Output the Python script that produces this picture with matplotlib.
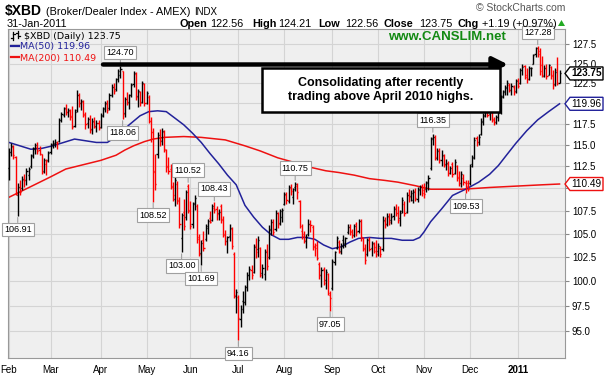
import numpy as np
import pandas as pd
import matplotlib
matplotlib.use("Agg")
import matplotlib.pyplot as plt
from matplotlib.collections import LineCollection
from matplotlib.patches import Polygon, Rectangle
from matplotlib.transforms import IdentityTransform
from matplotlib.ticker import FixedLocator, FixedFormatter, NullLocator

# ---------------- data (daily OHLC, 1-Feb-2010 .. 31-Jan-2011) ----------------
opens = [
    # Feb
    112.3, 114.2, 114.8, 113.6, 109.3, 110.1, 110.0, 111.0, 110.9, 111.5,
    112.5, 113.8, 114.5, 114.8, 114.4, 113.9, 112.0, 112.8, 113.2,
    # Mar
    114.2, 115.1, 115.2, 115.2, 115.5, 118.0, 118.6, 119.3, 118.9, 119.1,
    118.5, 117.3, 119.2, 121.0, 120.0, 120.2, 118.7, 117.6, 118.1, 116.9,
    117.8, 117.3, 117.6,
    # Apr
    117.2, 118.6, 119.3, 119.9, 119.4, 121.0, 122.1, 121.8, 123.1, 123.5,
    124.0, 118.8, 120.6, 120.2, 121.1, 122.4, 123.7, 120.9, 121.4, 120.2,
    122.4,
    # May
    120.1, 120.8, 117.9, 116.5, 111.9, 114.0, 115.8, 115.5, 116.6, 114.4,
    112.6, 112.2, 110.1, 108.8, 110.5, 108.7, 104.5, 107.4, 106.8, 110.3,
    # Jun
    107.5, 106.0, 108.4, 108.0, 104.6, 102.9, 104.3, 104.4, 105.6, 106.7,
    106.5, 107.8, 107.7, 107.3, 108.0, 106.6, 105.0, 104.2, 104.8, 105.5,
    102.8, 98.5,
    # Jul
    98.4, 96.2, 98.0, 97.9, 99.4, 100.7, 101.2, 101.0, 103.7, 103.4,
    103.5, 100.9, 100.8, 103.2, 102.5, 105.4, 106.3, 105.5, 107.2, 106.2,
    106.8,
    # Aug
    108.3, 109.2, 108.6, 110.0, 109.0, 110.1, 110.3, 108.6, 105.3, 104.8,
    104.2, 105.0, 106.0, 105.7, 103.6, 103.8, 101.8, 100.6, 101.3, 100.1,
    100.8, 98.6,
    # Sep
    99.3, 102.0, 103.5, 104.1, 103.2, 104.3, 104.0, 105.2, 105.7, 105.2,
    104.9, 106.1, 105.3, 106.4, 104.5, 103.4, 102.8, 104.4, 103.5, 103.9,
    103.6,
    # Oct
    103.2, 103.5, 103.4, 106.4, 106.1, 106.8, 106.5, 106.9, 107.8, 107.3,
    106.7, 107.5, 108.3, 107.4, 109.3, 109.1, 108.7, 109.7, 108.8, 109.9,
    110.3,
    # Nov
    109.8, 109.9, 110.7, 112.3, 115.8, 116.0, 113.5, 114.4, 113.3, 113.7,
    112.8, 112.8, 111.8, 112.8, 111.7, 112.6, 111.3, 110.6, 111.2, 110.6,
    110.6,
    # Dec
    110.6, 112.8, 113.6, 115.8, 115.4, 116.3, 117.8, 118.6, 119.5, 118.7,
    119.0, 118.0, 117.8, 118.3, 119.0, 120.9, 121.4, 121.9, 122.3, 121.7,
    122.1, 121.5,
    # Jan 2011
    122.9, 122.6, 124.2, 124.7, 123.5, 123.1, 124.5, 125.0, 126.3, 127.0,
    126.6, 124.8, 123.4, 124.4, 123.6, 124.6, 123.5, 122.4, 124.2, 122.56,
]
highs = [
    114.6, 115.2, 115.0, 113.7, 110.6, 111.0, 111.4, 111.6, 112.3, 112.4,
    113.9, 114.8, 115.2, 115.3, 114.9, 114.0, 113.5, 113.4, 114.3,
    115.2, 115.6, 115.7, 115.5, 118.2, 119.0, 119.6, 119.9, 119.5, 119.3,
    119.7, 119.3, 121.7, 121.3, 120.6, 120.4, 119.0, 118.4, 118.6, 118.2,
    118.3, 118.0, 118.0,
    118.8, 119.6, 120.3, 120.4, 121.3, 122.4, 122.6, 123.2, 124.3, 124.70,
    124.1, 120.8, 121.4, 121.2, 122.6, 124.1, 123.9, 121.8, 121.6, 122.8,
    122.6,
    121.6, 121.0, 118.3, 117.0, 113.9, 116.6, 116.9, 117.0, 116.8, 114.5,
    113.6, 112.8, 110.7, 111.3, 110.8, 109.0, 107.3, 108.8, 109.8, 110.52,
    108.6, 108.5, 109.3, 108.2, 105.0, 104.3, 105.3, 106.0, 106.6, 107.5,
    108.2, 108.43, 108.0, 107.7, 108.2, 106.9, 105.4, 104.8, 106.0, 105.7,
    103.0, 99.2,
    98.6, 97.6, 99.0, 99.6, 101.0, 101.6, 101.7, 103.9, 104.5, 104.8,
    103.6, 101.8, 103.4, 103.9, 105.9, 106.6, 106.6, 107.6, 107.4, 107.7,
    107.8,
    109.6, 109.6, 110.4, 110.5, 110.0, 110.75, 110.6, 108.7, 106.0, 105.3,
    105.0, 106.6, 106.5, 105.9, 104.0, 104.2, 102.0, 101.5, 101.5, 101.3,
    100.9, 99.0,
    102.3, 103.2, 104.8, 104.3, 104.0, 104.9, 104.7, 106.0, 106.1, 105.5,
    106.0, 106.3, 106.6, 106.6, 104.7, 103.9, 104.5, 104.6, 104.2, 104.1,
    104.3,
    104.0, 103.7, 106.9, 106.8, 107.3, 107.2, 107.2, 108.0, 108.2, 108.0,
    107.6, 109.0, 108.6, 109.6, 109.9, 109.8, 109.9, 110.0, 110.1, 110.4,
    110.5,
    110.6, 110.8, 111.5, 116.0, 116.35, 116.2, 114.6, 114.6, 114.4, 114.0,
    113.4, 113.1, 112.6, 113.0, 113.4, 112.7, 112.0, 112.0, 111.6, 111.0,
    111.0,
    112.8, 113.8, 115.9, 116.1, 116.3, 118.2, 118.8, 119.9, 119.8, 119.3,
    119.3, 118.3, 118.6, 119.0, 121.0, 121.7, 122.3, 122.9, 122.6, 122.5,
    122.3, 123.0,
    123.2, 124.4, 124.9, 124.8, 124.5, 124.7, 124.6, 126.3, 127.2, 127.28,
    127.0, 126.0, 124.8, 125.0, 125.0, 124.7, 124.2, 124.4, 125.9, 124.21,
]
lows = [
    111.0, 113.7, 113.4, 109.2, 106.91, 109.2, 109.8, 110.2, 110.4, 110.9,
    112.3, 113.5, 114.0, 113.9, 113.8, 111.6, 111.8, 111.5, 113.0,
    114.0, 114.6, 114.8, 114.5, 115.4, 117.7, 118.3, 118.6, 118.4, 118.0,
    116.9, 117.2, 119.0, 119.6, 119.2, 118.3, 116.9, 117.0, 116.4, 116.3,
    117.0, 116.5, 116.8,
    117.0, 118.3, 119.0, 118.8, 119.2, 120.8, 121.2, 121.6, 122.7, 123.2,
    118.06, 118.3, 119.8, 119.3, 120.8, 122.1, 120.4, 119.6, 119.7, 120.0,
    119.7,
    119.9, 117.6, 115.4, 108.52, 109.8, 113.5, 114.9, 115.0, 114.2, 111.9,
    111.6, 109.9, 108.6, 108.0, 108.3, 105.6, 103.00, 105.4, 106.5, 107.2,
    105.5, 105.6, 107.6, 104.0, 102.6, 101.69, 103.2, 104.2, 105.0, 106.2,
    106.4, 107.3, 106.5, 106.5, 106.2, 104.6, 103.8, 102.9, 104.2, 103.4,
    98.3, 96.8,
    94.16, 95.4, 96.8, 97.6, 99.0, 100.1, 100.2, 100.9, 102.4, 102.5,
    100.4, 100.3, 100.1, 101.2, 102.3, 104.9, 104.9, 105.3, 105.6, 105.9,
    106.3,
    108.1, 108.3, 108.4, 109.2, 108.3, 109.7, 108.8, 105.6, 104.4, 104.0,
    103.5, 104.8, 105.2, 103.3, 102.6, 102.2, 100.2, 99.4, 99.6, 99.2,
    98.6, 97.05,
    99.1, 101.7, 103.4, 102.9, 102.8, 103.5, 103.6, 105.0, 104.9, 104.5,
    104.6, 104.8, 105.1, 104.2, 103.2, 101.8, 102.6, 103.2, 102.6, 102.9,
    102.5,
    102.6, 102.5, 103.2, 105.6, 105.8, 105.9, 106.0, 106.5, 106.9, 106.2,
    105.8, 107.2, 106.9, 107.3, 108.5, 108.6, 108.4, 108.6, 108.5, 109.2,
    109.1,
    108.9, 109.6, 109.8, 112.1, 115.0, 113.2, 113.3, 112.9, 112.6, 112.4,
    112.1, 111.4, 111.6, 111.3, 111.6, 110.8, 110.3, 110.2, 110.4, 109.53,
    109.7,
    110.4, 112.4, 113.4, 114.9, 115.0, 116.2, 117.4, 118.4, 118.3, 118.0,
    117.7, 117.4, 117.5, 117.9, 118.7, 120.7, 121.0, 121.1, 121.4, 121.1,
    121.0, 121.3,
    121.9, 122.4, 123.6, 123.0, 122.6, 122.9, 123.4, 124.9, 125.9, 125.8,
    123.6, 123.3, 123.3, 123.0, 123.5, 123.0, 121.8, 122.2, 122.3, 122.56,
]
closes = [
    114.2, 114.9, 113.8, 109.4, 110.1, 109.6, 111.1, 110.9, 112.0, 112.2,
    113.7, 114.6, 115.0, 114.3, 114.0, 111.9, 113.2, 113.1, 114.1,
    115.0, 115.1, 115.3, 115.2, 118.0, 118.7, 119.4, 118.9, 119.2, 118.3,
    117.2, 119.0, 121.1, 120.1, 120.3, 118.6, 117.5, 118.1, 116.8, 117.9,
    117.2, 117.6, 117.0,
    118.5, 119.4, 120.0, 119.2, 121.0, 122.1, 121.6, 123.0, 124.0, 124.3,
    118.7, 120.5, 120.1, 121.0, 122.3, 123.8, 120.8, 121.5, 120.0, 122.5,
    120.0,
    121.3, 117.9, 116.6, 112.0, 110.5, 116.2, 115.6, 116.7, 114.5, 112.4,
    112.0, 110.3, 109.2, 110.9, 108.6, 106.0, 107.0, 105.8, 109.6, 107.6,
    105.8, 108.3, 108.9, 104.4, 102.8, 104.0, 103.5, 105.8, 106.4, 106.3,
    108.0, 107.6, 107.1, 107.4, 106.5, 104.9, 104.2, 104.6, 105.6, 103.7,
    98.6, 98.9,
    96.3, 97.2, 97.9, 99.4, 100.7, 101.3, 100.6, 103.6, 103.0, 104.3,
    100.7, 101.4, 103.1, 101.6, 105.5, 106.3, 105.2, 107.3, 106.1, 107.5,
    107.6,
    109.4, 108.7, 110.2, 109.7, 109.9, 110.5, 109.6, 105.8, 105.0, 104.3,
    104.7, 106.0, 105.9, 103.7, 103.5, 102.4, 100.6, 101.2, 99.8, 101.0,
    98.8, 98.3,
    102.1, 103.0, 104.5, 103.1, 103.7, 103.8, 104.5, 105.7, 105.3, 104.9,
    105.8, 105.2, 106.4, 104.6, 103.5, 102.2, 104.3, 103.4, 104.0, 103.2,
    102.8,
    103.7, 102.8, 106.5, 106.0, 106.9, 106.3, 106.8, 107.7, 107.2, 106.5,
    107.3, 108.7, 107.2, 109.2, 109.0, 109.5, 109.6, 108.9, 109.8, 110.2,
    109.5,
    109.4, 110.6, 111.2, 115.7, 116.0, 113.6, 114.3, 113.2, 113.8, 112.7,
    112.9, 111.7, 112.3, 111.6, 113.0, 111.2, 110.6, 111.6, 110.7, 110.3,
    109.9,
    112.6, 113.5, 115.6, 115.3, 116.0, 117.9, 118.5, 119.6, 118.6, 119.0,
    118.1, 117.7, 118.4, 118.8, 120.8, 121.5, 122.0, 122.5, 121.7, 122.2,
    121.4, 122.8,
    122.2, 124.2, 124.6, 123.3, 123.0, 124.4, 124.5, 126.1, 127.0, 126.3,
    124.0, 123.6, 124.5, 123.4, 124.8, 123.4, 122.3, 123.9, 122.56, 123.75,
]

# moving averages (trading-day index, value)
ma50_days = [0, 5, 10, 15, 20, 25, 30, 35, 40, 45, 48, 50, 55, 60, 64, 68, 72, 76,
             80, 84, 88, 92, 96, 100, 104, 108, 112, 116, 120, 124, 128, 132, 136,
             140, 144, 148, 152, 156, 160, 165, 170, 175, 180, 185, 188, 190, 193,
             198, 203, 209, 215, 220, 224, 228, 232, 237, 242, 247, 252]
ma50_vals = [115.3, 114.9, 114.5, 114.6, 114.9, 115.3, 115.7, 115.5, 115.3, 115.3,
             115.8, 116.2, 117.4, 118.5, 119.0, 119.1, 119.0, 118.2, 117.4, 116.4,
             115.3, 114.0, 112.8, 111.5, 110.4, 108.1, 106.8, 105.7, 104.9, 104.4,
             104.4, 104.6, 104.6, 104.4, 103.8, 103.4, 103.6, 104.1, 104.5, 104.6,
             104.5, 104.5, 104.3, 104.3, 104.6, 105.2, 106.3, 107.7, 109.2, 109.9,
             110.7, 111.6, 112.6, 113.9, 115.2, 116.7, 118.0, 119.0, 119.96]
ma200_days = [0, 10, 19, 26, 34, 42, 49, 53, 57, 62, 66, 71, 80, 88, 99, 108, 115,
              123, 130, 138, 145, 151, 158, 165, 172, 178, 186, 193, 200, 207, 214,
              220, 228, 236, 244, 252]
ma200_vals = [109.0, 110.2, 111.3, 112.2, 112.7, 113.2, 113.8, 114.4, 114.9, 115.4,
              115.7, 115.9, 116.0, 115.9, 115.6, 114.9, 114.3, 113.5, 113.0, 112.4,
              112.0, 111.8, 111.5, 111.1, 110.9, 110.7, 110.3, 109.9, 109.9, 109.9,
              110.0, 110.1, 110.2, 110.3, 110.4, 110.49]

# labelled highs / lows (trading-day index, value, kind)
mark_days = [4, 51, 52, 66, 79, 82, 88, 94, 105, 131, 147, 194, 209, 242]
mark_vals = [106.91, 124.70, 118.06, 108.52, 103.00, 110.52, 101.69, 108.43,
             94.16, 110.75, 97.05, 116.35, 109.53, 127.28]
mark_kind = ['low', 'high', 'low', 'low', 'low', 'high', 'low', 'high',
             'low', 'high', 'low', 'high', 'low', 'high']

yticks = [95.0, 97.5, 100.0, 102.5, 105.0, 107.5, 110.0, 112.5, 115.0, 117.5,
          120.0, 122.5, 125.0, 127.5]
month_labels = ['Feb', 'Mar', 'Apr', 'May', 'Jun', 'Jul', 'Aug', 'Sep', 'Oct',
                'Nov', 'Dec', '2011']

# ---------------- trading calendar ----------------
holidays = pd.to_datetime(['2010-02-15', '2010-04-02', '2010-05-31', '2010-07-05',
                           '2010-09-06', '2010-11-25', '2010-12-24', '2011-01-17'])
dates = pd.bdate_range('2010-02-01', '2011-01-31')
dates = dates[~dates.isin(holidays)]
n = len(closes)
idx = np.arange(n)
mstarts = [i for i in range(n) if i == 0 or dates[i].month != dates[i - 1].month]

# ---------------- figure ----------------
W, H = 605, 378
fig = plt.figure(figsize=(W / 100, H / 100), dpi=100)
fig.patch.set_facecolor('white')
ax = fig.add_axes([8 / W, (H - 358) / H, 557 / W, 329 / H])
ax.set_facecolor('#efefef')
ax.set_yscale('log')
ax.set_xlim(-0.46, 254.5)
ax.set_ylim(92.44, 129.52)

ax.yaxis.set_major_locator(FixedLocator(yticks))
ax.yaxis.set_minor_locator(NullLocator())
ax.yaxis.set_major_formatter(FixedFormatter(
    ['' if v in (110.0, 120.0) else f'{v:.1f}' for v in yticks]))
ax.yaxis.tick_right()
ax.tick_params(axis='y', length=3, width=0.8, color='#888888', pad=2,
               labelsize=7, labelcolor='black')
for lab in ax.get_yticklabels():
    lab.set_family('Liberation Sans')

ax.xaxis.set_major_locator(FixedLocator(mstarts))
ax.xaxis.set_major_formatter(FixedFormatter(month_labels))
ax.tick_params(axis='x', length=0, pad=5, labelsize=7)
for i, lab in enumerate(ax.get_xticklabels()):
    lab.set_family('Liberation Sans')
    if month_labels[i] == '2011':
        lab.set_fontweight('bold')

ax.grid(True, color='#d4d4d4', lw=0.8, zorder=0)
ax.set_axisbelow(True)
for s in ax.spines.values():
    s.set_color('#999999')
    s.set_linewidth(0.8)

# OHLC bars
cols = []
for i in range(n):
    up = True if i == 0 else closes[i] >= closes[i - 1]
    cols.append('black' if up else '#ff0000')
vsegs = [[(i, lows[i]), (i, highs[i])] for i in range(n)]
osegs = [[(i - 0.5, opens[i]), (i, opens[i])] for i in range(n)]
csegs = [[(i, closes[i]), (i + 0.5, closes[i])] for i in range(n)]
for segs in (vsegs, osegs, csegs):
    ax.add_collection(LineCollection(segs, colors=cols, linewidths=1.0, zorder=3))

# moving averages
ax.plot(ma200_days, ma200_vals, color='#ee1111', lw=1.1, zorder=2)
ax.plot(ma50_days, ma50_vals, color='#22229a', lw=1.1, zorder=2)

# high / low labels
for d, v, k in zip(mark_days, mark_vals, mark_kind):
    off = 9 if k == 'high' else -9
    ax.annotate(f'{v:.2f}', xy=(d, v), xytext=(0, off), textcoords='offset pixels',
                ha='center', va='bottom' if k == 'high' else 'top',
                fontsize=6.5, family='Liberation Sans', color='black',
                bbox=dict(boxstyle='square,pad=0.25', fc='white', ec='#a0a0a0', lw=0.8),
                arrowprops=dict(arrowstyle='-', color='#a0a0a0', lw=0.8,
                                shrinkA=0, shrinkB=1),
                zorder=6, annotation_clip=False)

fig.canvas.draw()
T = IdentityTransform()


def ypix(v):
    return ax.transData.transform((0, v))[1]


# right-side value tags
def tag(v, text, ec, bold):
    yc = ypix(v)
    x0, x1, h = 565, 603, 6.5
    pts = [(x0, yc), (x0 + 5, yc - h), (x1, yc - h), (x1, yc + h), (x0 + 5, yc + h)]
    fig.add_artist(Polygon(pts, closed=True, transform=T, fc='white', ec=ec,
                           lw=1.0, zorder=10))
    fig.text((x0 + 5 + x1) / 2, yc, text, transform=T, ha='center', va='center',
             fontsize=7.2, family='Liberation Sans',
             fontweight='bold' if bold else 'normal', color='black', zorder=11)


tag(110.49, '110.49', '#ee1111', False)
tag(119.96, '119.96', '#22229a', False)
tag(123.75, '123.75', 'black', True)

# header
fig.text(5, H - 15, '$XBD', transform=T, fontsize=10, fontweight='bold',
         family='Liberation Sans', va='baseline')
fig.text(46, H - 15, '(Broker/Dealer Index - AMEX)', transform=T, fontsize=7.8,
         family='Liberation Sans', va='baseline')
fig.text(194, H - 15, 'INDX', transform=T, fontsize=7, family='Liberation Sans',
         va='baseline')
fig.text(565, H - 11, '\u00a9 StockCharts.com', transform=T, fontsize=7.5,
         family='Liberation Sans', ha='right', va='baseline', color='#555555')
fig.text(7, H - 27, '31-Jan-2011', transform=T, fontsize=7.8,
         family='Liberation Sans', va='baseline')
pieces = [(180, 'Open', True), (210, '122.56', False), (252, 'High', True),
          (278, '124.21', False), (318, 'Low', True), (345, '122.56', False),
          (383, 'Close', True), (419, '123.75', False), (457, 'Chg', True),
          (482, '+1.19 (+0.97%)', False)]
for x, s, b in pieces:
    fig.text(x, H - 27, s, transform=T, fontsize=7.8, family='Liberation Sans',
             fontweight='bold' if b else 'normal', va='baseline')
fig.add_artist(Polygon([(558, H - 26), (565, H - 26), (561.5, H - 20)], closed=True,
                       transform=T, fc='#22aa22', ec='none'))

# in-plot legend
for (x, y0, y1, yo, yc) in [(13, 32, 40, 38, 34), (18, 31, 38, 33, 36)]:
    fig.add_artist(plt.Line2D([x, x], [H - y0, H - y1], transform=T, color='black', lw=0.9))
    fig.add_artist(plt.Line2D([x - 2, x], [H - yo, H - yo], transform=T, color='black', lw=0.9))
    fig.add_artist(plt.Line2D([x, x + 2], [H - yc, H - yc], transform=T, color='black', lw=0.9))
fig.text(24, H - 39, '$XBD (Daily) 123.75', transform=T, fontsize=6.8,
         va='baseline', color='black')
fig.add_artist(plt.Line2D([11, 19], [H - 46, H - 46], transform=T, color='#22229a', lw=1.6))
fig.text(20, H - 49.5, 'MA(50) 119.96', transform=T, fontsize=6.8, va='baseline',
         color='#22229a')
fig.add_artist(plt.Line2D([11, 19], [H - 57, H - 57], transform=T, color='#ee1111', lw=1.6))
fig.text(20, H - 60.5, 'MA(200) 110.49', transform=T, fontsize=6.8, va='baseline',
         color='#ee1111')

# CANSLIM watermark
fig.text(447, H - 37, 'www.CANSLIM.net', transform=T, fontsize=9.5, fontweight='bold',
         family='Liberation Sans', color='#138a13', ha='center', va='center')

# arrow and comment box
ax.annotate('', xy=(508, H - 64.5), xytext=(103, H - 64.5), xycoords='figure pixels',
            textcoords='figure pixels',
            arrowprops=dict(arrowstyle='-|>,head_length=0.9,head_width=0.45', lw=3.2,
                            color='black', shrinkA=0, shrinkB=0),
            zorder=8, annotation_clip=False)
fig.add_artist(Rectangle((262, H - 112), 238, 44, transform=T, fc='white', ec='black',
                         lw=1.8, zorder=9))
fig.text(381, H - 90, 'Consolidating after recently\ntrading above April 2010 highs.',
         transform=T, ha='center', va='center', fontsize=9, fontweight='bold',
         family='Liberation Sans', linespacing=1.3, zorder=10)

fig.savefig('out.png', dpi=100)
